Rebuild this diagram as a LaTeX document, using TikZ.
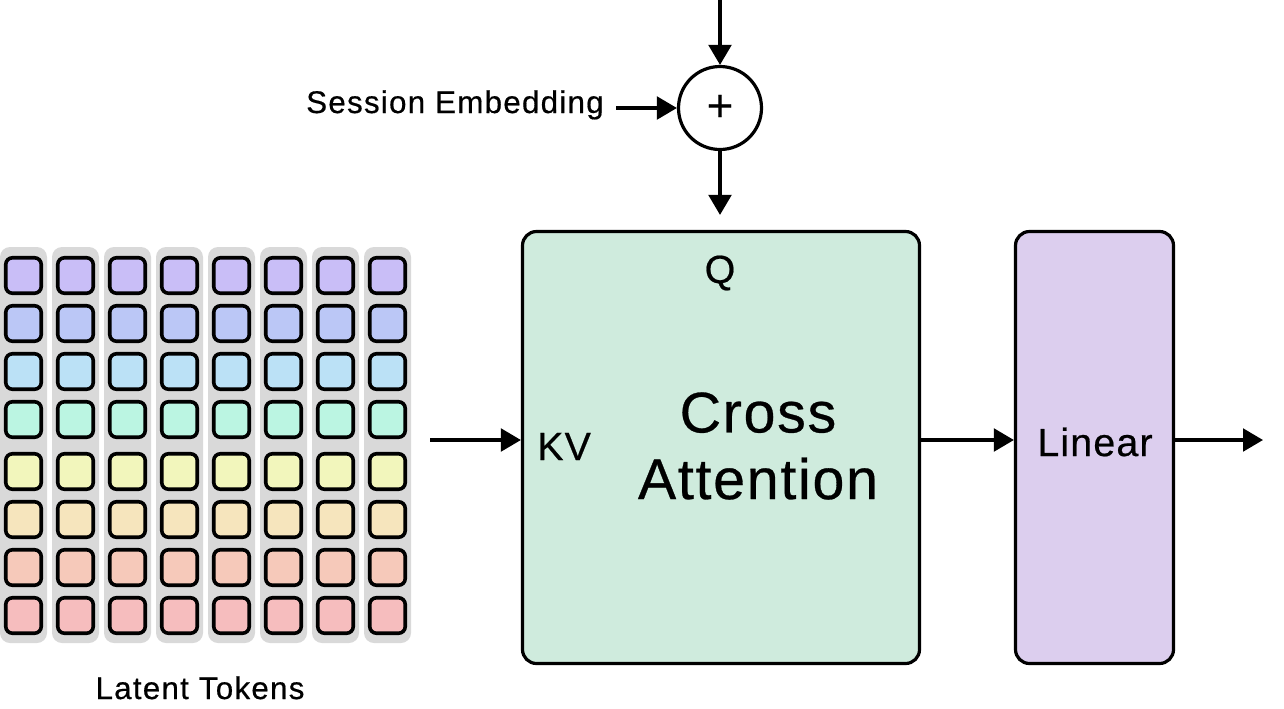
\documentclass[tikz,border=0pt]{standalone}
\usepackage{fontspec}
\setmainfont{Liberation Sans}[FakeBold=0.5]
\usetikzlibrary{arrows.meta,positioning}

\definecolor{tokA}{HTML}{C9BEF7}
\definecolor{tokB}{HTML}{BBC7F6}
\definecolor{tokC}{HTML}{BBE1F6}
\definecolor{tokD}{HTML}{BBF5E2}
\definecolor{tokE}{HTML}{F2F6BC}
\definecolor{tokF}{HTML}{F6E5BD}
\definecolor{tokG}{HTML}{F6C9BA}
\definecolor{tokH}{HTML}{F6BDBE}
\definecolor{colgray}{HTML}{D9D9D9}
\definecolor{crossfill}{HTML}{CFEBDD}
\definecolor{linearfill}{HTML}{DCCEEE}

\tikzset{
  arr/.style={line width=2.4pt,-{Triangle[length=15pt,width=17pt]}},
  colbg/.style={fill=colgray,rounded corners=7.5pt,minimum width=35.25pt,minimum height=297pt,inner sep=0pt},
  token/.style={draw,line width=2.7pt,rounded corners=5pt,minimum size=26.6pt,inner sep=0pt},
  block/.style={draw,line width=2.4pt,rounded corners=10.5pt,minimum height=324pt,inner sep=0pt},
  smalltxt/.style={inner sep=0pt,font=\fontsize{23.5}{28}\selectfont\addfontfeatures{LetterSpace=4}},
  midtxt/.style={inner sep=0pt,font=\fontsize{29.5}{34}\selectfont\addfontfeatures{LetterSpace=3}},
}

\begin{document}
\begin{tikzpicture}[x=0.75pt,y=0.75pt,yscale=-1,xscale=1]
\useasboundingbox (0,0) rectangle (1284,708);

%Shape: Token columns
\foreach \c in {0,...,7}{
  \node[colbg] (col\c) at (52*\c+23.5,445) {};
}
%Shape: Latent tokens
\foreach \tc/\ty [count=\r] in {tokA/275.5,tokB/323.5,tokC/371.5,tokD/419.5,tokE/471.5,tokF/519.5,tokG/567.5,tokH/615.5}{
  \foreach \c in {0,...,7}{
    \node[token,fill=\tc] (tok\r-\c) at (52*\c+23.5,\ty) {};
  }
}

%Shape: Cross attention block
\node[block,fill=crossfill,minimum width=297.75pt] (cross) at (721,447.5) {};
%Shape: Linear block
\node[block,fill=linearfill,minimum width=118.5pt] (linear) at (1094.5,447.5) {};
%Shape: Sum
\node[circle,draw,line width=2.4pt,minimum size=62.25pt,inner sep=0pt,font=\fontsize{34}{34}\selectfont] (plus) at (720,108) {+};

% Text Node
\node[smalltxt,anchor=base east] (sess) at (604,113) {Session Embedding};
% Text Node
\node[smalltxt,anchor=base] (latent) at (200,699) {Latent Tokens};
% Text Node
\node[midtxt,anchor=base] (qtxt) at (720,283) {Q};
% Text Node
\node[midtxt,anchor=base west] (kvtxt) at (537,460) {KV};
% Text Node
\node[midtxt] (lintxt) at (1095,442) {Linear};
% Text Node
\node[inner sep=0pt,align=center,font=\fontsize{43}{50}\selectfont\addfontfeatures{LetterSpace=3}] (crosstxt) at (758,446) {Cross\\Attention};

%Arrows
\coordinate (topin) at (720,0);
\coordinate (mid) at (0,440);
\coordinate (out) at (1263,440);
\draw[arr] (topin) -- (plus);
\draw[arr,shorten <=9pt] (sess.east |- plus) -- (plus);
\draw[arr,shorten >=11.25pt] (plus) -- (plus |- cross.north);
\draw[arr,shorten <=14.25pt] (col7.east |- mid) -- (cross.west |- mid);
\draw[arr] (cross.east |- mid) -- (linear.west |- mid);
\draw[arr] (linear.east |- mid) -- (out);

\end{tikzpicture}
\end{document}
